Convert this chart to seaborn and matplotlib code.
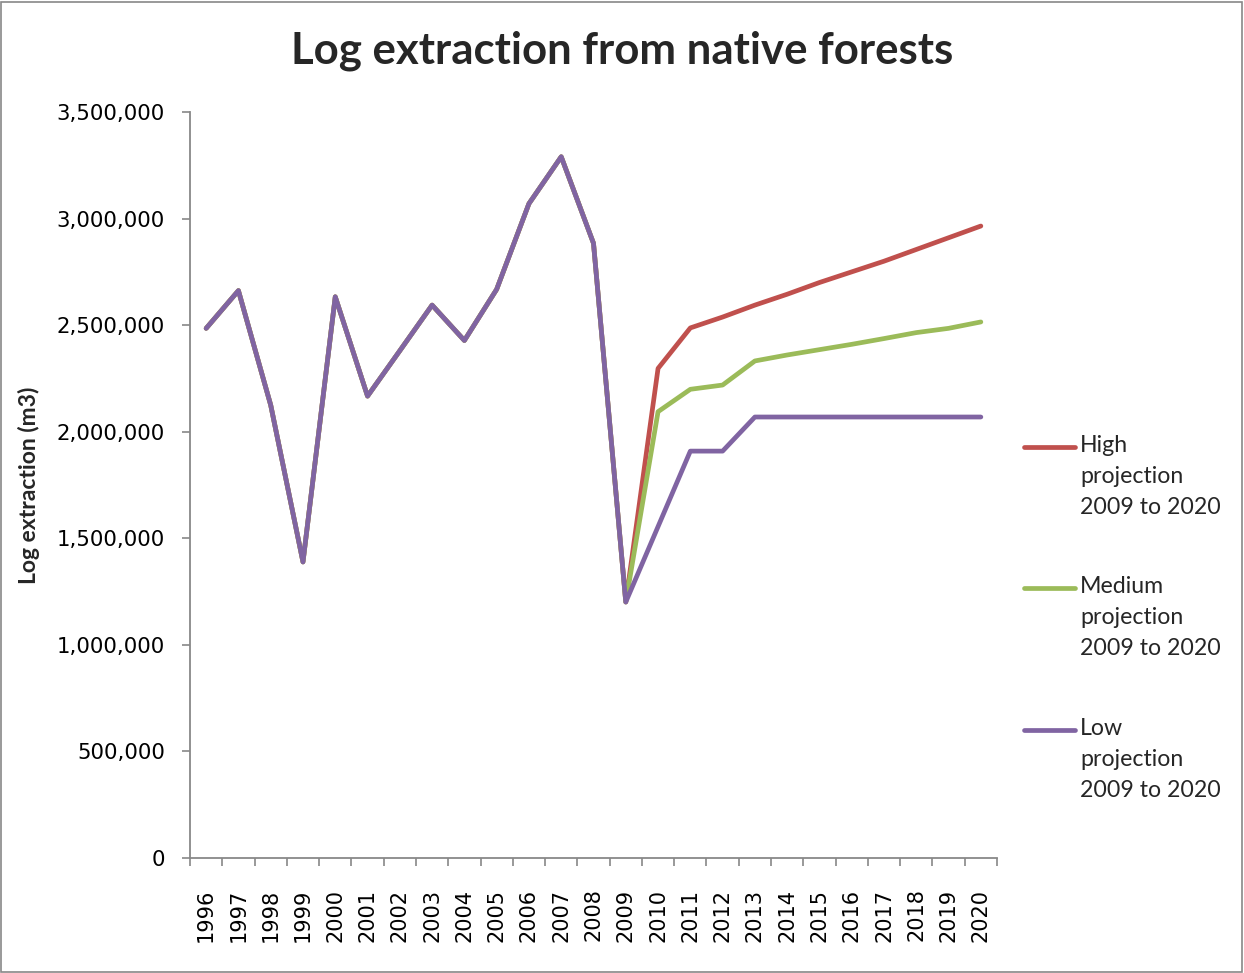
import matplotlib
matplotlib.use("Agg")
import matplotlib.pyplot as plt
import matplotlib.ticker as mticker
from matplotlib.lines import Line2D
from matplotlib.patches import Rectangle
import numpy as np
import pandas as pd
import seaborn as sns

# Recorded log extraction 1996-2009 (m3)
hist_years = list(range(1996, 2010))
hist_values = [2485000, 2662000, 2125000, 1389000, 2633000, 2167000, 2380000,
               2594000, 2428000, 2668000, 3070000, 3290000, 2884000, 1201000]

# Projections 2010-2020 (m3)
proj_years = list(range(2010, 2021))
high_proj = [2297000, 2487000, 2538000, 2594000, 2645000, 2700000, 2750000,
             2800000, 2855000, 2910000, 2965000]
medium_proj = [2094000, 2199000, 2219000, 2332000, 2360000, 2385000, 2410000,
               2437000, 2465000, 2485000, 2515000]
low_proj = [1555000, 1909000, 1909000, 2069000, 2069000, 2069000, 2069000,
            2069000, 2069000, 2069000, 2069000]

series_names = ["High\nprojection\n2009 to 2020",
                "Medium\nprojection\n2009 to 2020",
                "Low\nprojection\n2009 to 2020"]
series_colors = ["#C0504D", "#9BBB59", "#8064A2"]

all_years = hist_years + proj_years
frames = []
for name, proj in zip(series_names, [high_proj, medium_proj, low_proj]):
    frames.append(pd.DataFrame({
        "pos": np.arange(len(all_years)),
        "value": hist_values + proj,
        "series": name,
    }))
df = pd.concat(frames, ignore_index=True)

sns.set_theme(style="white")
plt.rcParams["font.family"] = ["DejaVu Sans"]

W, H = 1244, 973
fig = plt.figure(figsize=(W / 100, H / 100), dpi=100)
ax = fig.add_axes([190 / W, 1 - 858 / H, (997 - 190) / W, (858 - 112) / H])

sns.lineplot(data=df, x="pos", y="value", hue="series", hue_order=series_names,
             palette=series_colors, linewidth=3.4, ax=ax, legend=False,
             sort=False)

ax.set_xlim(-0.5, len(all_years) - 0.5)
ax.set_ylim(0, 3500000)
ax.yaxis.set_major_locator(mticker.MultipleLocator(500000))
ax.yaxis.set_major_formatter(mticker.FuncFormatter(lambda v, p: f"{int(v):,}"))

ax.set_xticks(np.arange(len(all_years)))
ax.set_xticklabels([str(y) for y in all_years], rotation=90)
ax.set_xticks(np.arange(-0.5, len(all_years)), minor=True)
ax.tick_params(axis="x", which="major", length=0, pad=22, labelsize=15,
               colors="black")
ax.tick_params(axis="x", which="minor", length=6, width=1.2, color="#888888",
               direction="out", bottom=True)
ax.tick_params(axis="y", which="major", length=6, width=1.2, color="#888888",
               direction="out", left=True, labelsize=15.3, labelcolor="black",
               pad=12)

for s in ["top", "right"]:
    ax.spines[s].set_visible(False)
for s in ["left", "bottom"]:
    ax.spines[s].set_color("#888888")
    ax.spines[s].set_linewidth(1.3)

ax.set_xlabel("")
ax.set_ylabel("Log extraction (m3)", fontsize=16.5, fontweight="bold",
              family=["Lato", "DejaVu Sans"])
ax.yaxis.set_label_coords(-150 / (997 - 190), 0.5)

fig.text(0.5, 1 - 51 / H, "Log extraction from native forests",
         ha="center", va="center", fontsize=31.5, fontweight="bold",
         family=["Lato", "DejaVu Sans"])

# Legend entries on the right, handle aligned with the first line of text
legend_rows = [447, 588, 730]
for name, color, row in zip(series_names, series_colors, legend_rows):
    fig.add_artist(Line2D([1024 / W, 1075 / W], [1 - row / H, 1 - row / H],
                          color=color, linewidth=3.4,
                          solid_capstyle="round", transform=fig.transFigure))
    fig.text(1080 / W, 1 - (row - 12) / H, name, ha="left", va="top",
             fontsize=16.7, linespacing=1.6, family=["Lato", "DejaVu Sans"])

# Chart frame
fig.add_artist(Rectangle((1 / W, 1 / H), 1 - 3 / W, 1 - 3 / H,
                         transform=fig.transFigure, fill=False,
                         edgecolor="#888888", linewidth=1.2))

fig.savefig("out.png", dpi=100)
